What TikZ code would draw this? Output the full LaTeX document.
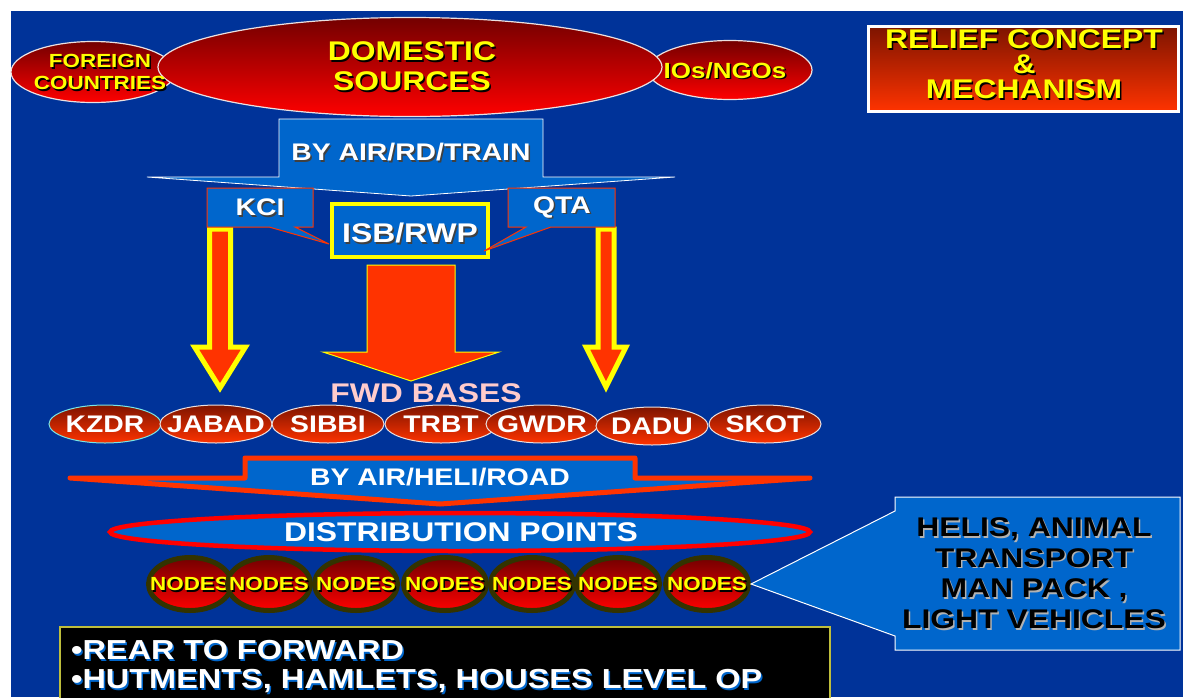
\documentclass[tikz,border=0pt]{standalone}
\usepackage{fontspec}
\setmainfont{Liberation Sans}[FakeStretch=1.18]
\usetikzlibrary{shapes.geometric}
\definecolor{bgblue}{RGB}{0,51,153}
\definecolor{boxblue}{RGB}{0,102,204}
\definecolor{orred}{RGB}{255,51,0}
\definecolor{ylw}{RGB}{255,255,0}
\definecolor{dkred}{RGB}{115,0,0}
\definecolor{pinktxt}{RGB}{255,204,204}
\definecolor{olivedk}{RGB}{51,51,0}
\definecolor{basetop}{RGB}{125,20,0}
\definecolor{titletop}{RGB}{125,20,0}
\definecolor{edgewhite}{RGB}{235,225,225}
\definecolor{boxedge}{RGB}{190,190,60}
\definecolor{kzedge}{RGB}{120,230,230}
\newcommand{\stxt}[2][black]{\leavevmode\rlap{\kern1.5pt\raisebox{-1.5pt}{\textcolor{#1}{#2}}}#2}
\newcommand{\fsz}[2]{\fontsize{#1}{#2}\selectfont\bfseries}
\begin{document}
\begin{tikzpicture}[x=1pt,y=-1pt,
 redell/.style={ellipse, draw=edgewhite, line width=1.2pt, top color=dkred, bottom color=red, inner sep=0pt},
 baseell/.style={ellipse, line width=1pt, top color=basetop, bottom color=orred, inner sep=0pt, minimum width=112pt, minimum height=38pt},
 nodeell/.style={ellipse, draw=olivedk, line width=5pt, top color=dkred, bottom color=red, inner sep=0pt, minimum width=83pt, minimum height=53pt},
 ytxt/.style={inner sep=0pt, align=center, text=ylw},
 wtxt/.style={inner sep=0pt, align=center, text=white},
]
\useasboundingbox (0,0) rectangle (1183,697);
\fill[white] (0,0) rectangle (1183,697);
\fill[bgblue] (11,11) rectangle (1183,697);

% sources
\node[redell, minimum width=164pt, minimum height=61pt] (foreign) at (93,72) {};
\node[redell, minimum width=164pt, minimum height=59pt] (ngo) at (730,70) {};
\node[redell, minimum width=504pt, minimum height=99pt] (domestic) at (410,67) {};
\node[ytxt, font=\fsz{19}{22}] (foreignt) at (100,73) {\stxt{FOREIGN}\\\stxt{COUNTRIES}};
\node[ytxt, font=\fsz{27}{30}] (domestict) at (412,67) {\stxt{DOMESTIC}\\\stxt{SOURCES}};
\node[ytxt, font=\fsz{22}{22}] (ngot) at (725,71) {\stxt{IOs/NGOs}};

% title
\node[draw=white, line width=3pt, top color=titletop, bottom color=orred, minimum width=310pt, minimum height=85pt, inner sep=0pt] (title) at (1023.5,69) {};
\node[ytxt, font=\fsz{27}{25}] (titlet) at (1024,65) {\stxt{RELIEF CONCEPT}\\\stxt{\&}\\\stxt{MECHANISM}};

% first transport arrow
\draw[draw=white, line width=0.8pt, fill=boxblue] (279,119) -- (543,119) -- (543,177) -- (675,177) -- (411,196) -- (147,177) -- (279,177) -- cycle;
\node[wtxt, font=\fsz{24}{24}] (air1) at (411,153) {\stxt[black!75]{BY AIR/RD/TRAIN}};

% side arrows
\draw[draw=ylw, line width=5pt, fill=orred] (209.5,229) -- (230.5,229) -- (230.5,347) -- (245.5,347) -- (220,388) -- (194.5,347) -- (209.5,347) -- cycle;
\draw[draw=ylw, line width=5pt, fill=orred] (598,229) -- (614,229) -- (614,347) -- (626,347) -- (606,387) -- (586,347) -- (598,347) -- cycle;

% ISB box
\node[draw=ylw, line width=4pt, fill=boxblue, minimum width=156pt, minimum height=53pt, inner sep=0pt] (isb) at (410,230.5) {};
\node[wtxt, font=\fsz{27}{27}] (isbt) at (410,234) {\stxt[black!75]{ISB/RWP}};

% callouts KCI / QTA
\draw[draw=orred, line width=1pt, fill=boxblue] (207,188) -- (313,188) -- (313,227) -- (295,227) -- (329,244) -- (269,227) -- (207,227) -- cycle;
\node[wtxt, font=\fsz{24}{24}] (kci) at (260,208) {\stxt[black!75]{KCI}};
\draw[draw=orred, line width=1pt, fill=boxblue] (508,188) -- (615,188) -- (615,227) -- (551,227) -- (484,251) -- (526,227) -- (508,227) -- cycle;
\node[wtxt, font=\fsz{24}{24}] (qta) at (562,208) {\stxt[black!75]{QTA}};

% centre arrow
\draw[draw=ylw, line width=1pt, fill=orred] (367,265) -- (455,265) -- (455,352) -- (499,352) -- (411,381) -- (323,352) -- (367,352) -- cycle;

% forward bases
\node[inner sep=0pt, text=pinktxt, font=\fsz{27}{27}] (fwd) at (426,393) {FWD BASES};
\foreach \n/\x/\y/\t/\c in {kzdr/105/424/KZDR/kzedge, jabad/216/424/JABAD/edgewhite, sibbi/328/424/SIBBI/edgewhite, trbt/441/424/TRBT/edgewhite, gwdr/542/424/GWDR/edgewhite, dadu/652/426/DADU/edgewhite, skot/765/424/SKOT/edgewhite}{
  \node[baseell, draw=\c] (\n) at (\x,\y) {};
  \node[wtxt, font=\fsz{24}{24}] (\n t) at (\x,\y) {\t};
}

% second transport arrow
\draw[draw=orred, line width=5pt, line join=round, fill=boxblue] (245,458) -- (635,458) -- (635,478) -- (810,478) -- (440,504) -- (70,478) -- (245,478) -- cycle;
\node[wtxt, font=\fsz{24}{24}] (air2) at (440,477) {BY AIR/HELI/ROAD};

% distribution points
\node[ellipse, draw=red, line width=4.5pt, fill=boxblue, minimum width=700pt, minimum height=38pt, inner sep=0pt] (dist) at (460,532) {};
\node[wtxt, font=\fsz{27}{27}] (distt) at (461,532) {DISTRIBUTION POINTS};

% nodes
\foreach \i/\x in {1/190,2/269,3/356,4/445,5/532,6/618,7/707}{
  \node[nodeell] (nd\i) at (\x,584) {};
  \node[ytxt, font=\fsz{19}{19}] (ndt\i) at (\x,585) {\stxt{NODES}};
}

% helis callout
\draw[draw=white, line width=1pt, fill=boxblue] (895,497) -- (1180,497) -- (1180,650) -- (895,650) -- (895,636) -- (nd7.east) -- (895,511) -- cycle;
\node[inner sep=0pt, align=center, text=black, font=\fsz{27}{30.7}] (helis) at (1034,574) {\stxt[gray!60]{HELIS, ANIMAL}\\\stxt[gray!60]{TRANSPORT}\\\stxt[gray!60]{MAN PACK ,}\\\stxt[gray!60]{LIGHT VEHICLES}};

% bottom box
\draw[draw=boxedge, line width=1.5pt, fill=black] (60,627) rectangle (830,705);
\node[anchor=west, inner sep=0pt, text=white, font=\fsz{27.5}{27.5}] (rear) at (71,651) {\stxt[boxblue]{•REAR TO FORWARD}};
\node[anchor=west, inner sep=0pt, text=white, font=\fsz{27.5}{27.5}] (hut) at (71,682) {\stxt[boxblue]{•HUTMENTS, HAMLETS, HOUSES LEVEL OP}};
\end{tikzpicture}
\end{document}
